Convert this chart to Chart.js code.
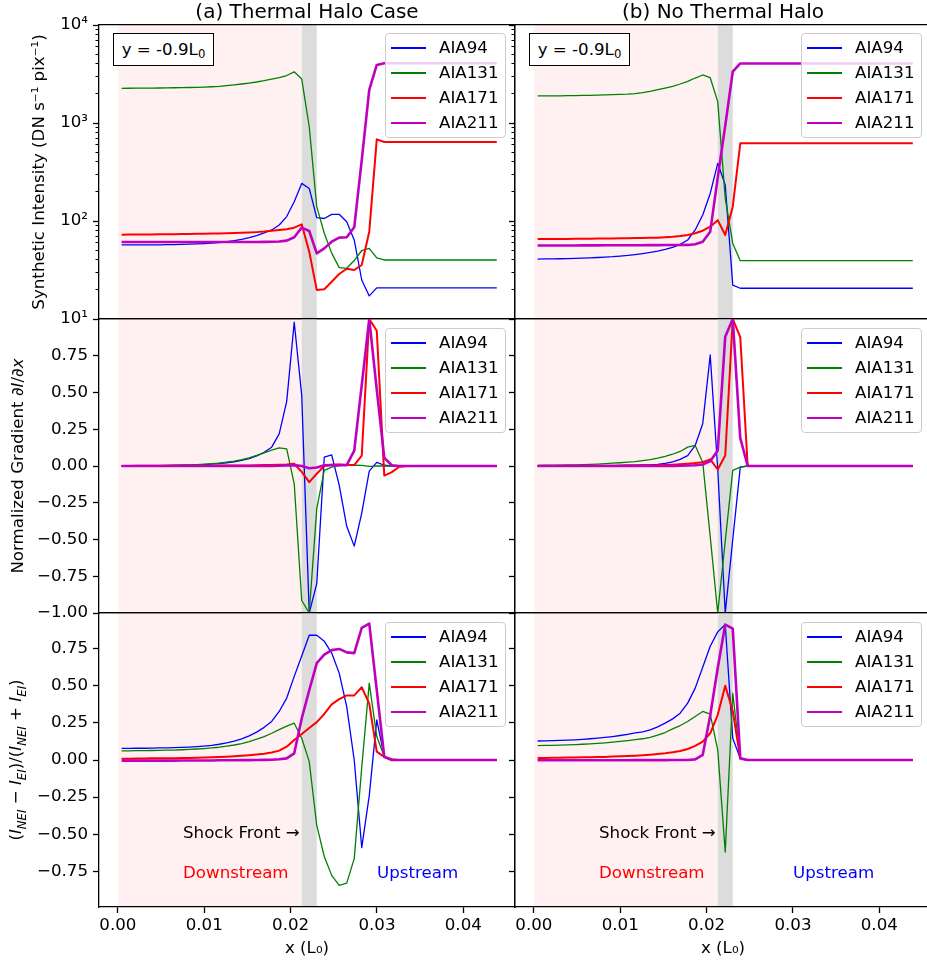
<!DOCTYPE html>
<html><head><meta charset="utf-8">
<script src="https://cdn.jsdelivr.net/npm/chart.js@4.4.1/dist/chart.umd.min.js"></script>
<style>
html,body{margin:0;padding:0;background:#fff;overflow:hidden;width:927px;height:968px;}
body{position:relative;font-family:'DejaVu Sans',sans-serif;color:#000;}
canvas{position:absolute;z-index:1;}
.t{position:absolute;z-index:3;white-space:nowrap;font-size:16.67px;line-height:20px;}
.title{position:absolute;z-index:3;white-space:nowrap;font-size:20px;line-height:24px;transform:translateX(-50%);top:-1px;}
.legend{position:absolute;z-index:3;width:121px;height:105px;box-sizing:border-box;border:1px solid #cccccc;border-radius:4px;background:rgba(255,255,255,0.8);}
.lg-line{position:absolute;left:5px;width:35px;}
.lg-text{position:absolute;left:53px;font-size:16.67px;line-height:20px;white-space:nowrap;}
.ybox{position:absolute;z-index:3;width:101px;height:33px;box-sizing:border-box;border:1.3px solid #000;background:#fff;display:flex;align-items:center;justify-content:center;font-size:16.67px;line-height:20px;white-space:nowrap;}
.sub{font-size:11.7px;position:relative;top:4px;}
.ylab{position:absolute;z-index:3;white-space:nowrap;font-size:16.67px;line-height:20px;transform:translate(-50%,-50%) rotate(-90deg);}
.ylab sub{font-size:11.7px;}
</style></head><body>
<div class="title" style="left:307px">(a) Thermal Halo Case</div>
<div class="title" style="left:723px">(b) No Thermal Halo</div>
<div class="ylab" style="left:18px;top:466px">Normalized Gradient <i>∂I</i>/<i>∂x</i></div>
<div class="ylab" style="left:19px;top:760px">(<i>I</i><sub><i>NEI</i></sub> − <i>I</i><sub><i>EI</i></sub>)/(<i>I</i><sub><i>NEI</i></sub> + <i>I</i><sub><i>EI</i></sub>)</div>
<div class="ybox" style="left:113px;top:33px">y = -0.9L<span class="sub">0</span></div>
<div class="ybox" style="left:529px;top:33px">y = -0.9L<span class="sub">0</span></div>
<div class="t" style="left:183px;top:823px">Shock Front →</div>
<div class="t" style="left:599px;top:823px">Shock Front →</div>
<div class="t" style="left:183px;top:863px;color:#ff0000">Downstream</div>
<div class="t" style="left:377px;top:863px;color:#0000ff">Upstream</div>
<div class="t" style="left:599px;top:863px;color:#ff0000">Downstream</div>
<div class="t" style="left:793px;top:863px;color:#0000ff">Upstream</div>
<script>
// ---------------- data ----------------
const xPositions = [
  0.00043, 0.00130, 0.00217, 0.00304, 0.00391, 0.00478, 0.00564, 0.00651, 0.00738, 0.00825,
  0.00912, 0.00999, 0.01086, 0.01173, 0.01260, 0.01347, 0.01434, 0.01520, 0.01607, 0.01694,
  0.01781, 0.01868, 0.01955, 0.02042, 0.02129, 0.02216, 0.02303, 0.02390, 0.02476, 0.02563,
  0.02650, 0.02737, 0.02824, 0.02911, 0.02998, 0.03085, 0.03172, 0.03259, 0.03346, 0.03432,
  0.03519, 0.03606, 0.03693, 0.03780, 0.03867, 0.03954, 0.04041, 0.04128, 0.04215, 0.04302,
  0.04388];
const seriesLabels = ['AIA94', 'AIA131', 'AIA171', 'AIA211'];
const downstreamSpan = [0, 0.02129];
const shockSpan = [0.02129, 0.02303];

// (a) Thermal halo, synthetic intensity
const intensityHalo94 = [
  57.0, 57.0, 57.0, 57.0, 57.1, 57.2, 57.3, 57.5, 57.7, 58.0,
  58.4, 58.9, 59.5, 60.3, 61.6, 63.0, 65.0, 67.6, 71.0, 75.5,
  81, 91, 111, 157, 242, 215, 108, 106, 117, 117,
  98.4, 64, 25, 17.2, 20.8, 20.8, 20.8, 20.8, 20.8, 20.8,
  20.8, 20.8, 20.8, 20.8, 20.8, 20.8, 20.8, 20.8, 20.8, 20.8, 20.8];
const intensityHalo131 = [
  2260, 2262, 2265, 2268, 2272, 2277, 2283, 2290, 2297, 2304,
  2312, 2325, 2345, 2370, 2405, 2450, 2500, 2555, 2620, 2700,
  2800, 2900, 3050, 3330, 2810, 916, 140, 75, 47, 33.4,
  32.9, 39.5, 50, 52.6, 42, 40, 40, 40, 40, 40,
  40, 40, 40, 40, 40, 40, 40, 40, 40, 40, 40];
const intensityHalo171 = [
  72.6, 72.7, 72.8, 72.9, 73.0, 73.1, 73.2, 73.3, 73.5, 73.7,
  73.9, 74.1, 74.4, 74.7, 75.0, 75.3, 75.7, 76.2, 77.0, 78.0,
  79.5, 81.0, 82.5, 85.5, 92.5, 48.6, 19.8, 20.1, 24.0, 28.8,
  32.6, 31.6, 35.6, 77.8, 681, 640, 640, 640, 640, 640,
  640, 640, 640, 640, 640, 640, 640, 640, 640, 640, 640];
const intensityHalo211 = [
  61.1, 61.1, 61.1, 61.1, 61.1, 61.1, 61.1, 61.1, 61.1, 61.1,
  61.1, 61.1, 61.1, 61.1, 61.1, 61.1, 61.1, 61.1, 61.1, 61.2,
  61.4, 61.8, 63.0, 68.2, 85.5, 79.1, 46.8, 52.6, 61.5, 67.6,
  68.2, 86.3, 419, 2173, 3907, 4065, 4065, 4065, 4065, 4065,
  4065, 4065, 4065, 4065, 4065, 4065, 4065, 4065, 4065, 4065, 4065];

// (b) No thermal halo, synthetic intensity
const intensityNoHalo94 = [
  40.9, 41.0, 41.1, 41.2, 41.4, 41.6, 41.8, 42.1, 42.4, 42.8,
  43.2, 43.8, 44.5, 45.4, 46.5, 47.8, 49.4, 51.4, 53.8, 57.8,
  64, 81, 115, 191, 388, 233, 22.2, 20.6, 20.6, 20.6,
  20.6, 20.6, 20.6, 20.6, 20.6, 20.6, 20.6, 20.6, 20.6, 20.6,
  20.6, 20.6, 20.6, 20.6, 20.6, 20.6, 20.6, 20.6, 20.6, 20.6, 20.6];
const intensityNoHalo131 = [
  1887, 1889, 1892, 1895, 1899, 1904, 1910, 1917, 1926, 1935,
  1945, 1955, 1968, 1995, 2040, 2105, 2190, 2275, 2366, 2500,
  2660, 2877, 3090, 2900, 1651, 170, 59, 39.4, 39.4, 39.4,
  39.4, 39.4, 39.4, 39.4, 39.4, 39.4, 39.4, 39.4, 39.4, 39.4,
  39.4, 39.4, 39.4, 39.4, 39.4, 39.4, 39.4, 39.4, 39.4, 39.4, 39.4];
const intensityNoHalo171 = [
  65.5, 65.5, 65.6, 65.6, 65.7, 65.8, 65.9, 66.0, 66.1, 66.2,
  66.4, 66.5, 66.7, 66.9, 67.1, 67.3, 67.6, 68.2, 69.0, 70.2,
  72.0, 75.0, 79.6, 87.5, 102, 72, 140, 621, 621, 621,
  621, 621, 621, 621, 621, 621, 621, 621, 621, 621,
  621, 621, 621, 621, 621, 621, 621, 621, 621, 621, 621];
const intensityNoHalo211 = [
  56.2, 56.2, 56.2, 56.3, 56.3, 56.3, 56.4, 56.4, 56.4, 56.5,
  56.5, 56.5, 56.6, 56.6, 56.6, 56.7, 56.7, 56.8, 56.8, 56.9,
  57.0, 58.0, 61.5, 77.8, 277, 940, 3340, 4050, 4050, 4050,
  4050, 4050, 4050, 4050, 4050, 4050, 4050, 4050, 4050, 4050,
  4050, 4050, 4050, 4050, 4050, 4050, 4050, 4050, 4050, 4050, 4050];

// (a) normalized gradient
const gradientHalo94 = [
  0.000, 0.001, 0.001, 0.002, 0.002, 0.003, 0.003, 0.004, 0.005, 0.006,
  0.008, 0.010, 0.013, 0.017, 0.022, 0.029, 0.038, 0.050, 0.068, 0.093,
  0.128, 0.219, 0.44, 0.978, 0.48, -1.0, -0.80, 0.06, 0.076, -0.13,
  -0.41, -0.545, -0.32, -0.035, 0.025, 0.005, 0, 0, 0, 0,
  0, 0, 0, 0, 0, 0, 0, 0, 0, 0, 0];
const gradientHalo131 = [
  0.000, 0.001, 0.001, 0.002, 0.002, 0.003, 0.004, 0.005, 0.006, 0.008,
  0.010, 0.013, 0.016, 0.020, 0.026, 0.033, 0.043, 0.056, 0.072, 0.090,
  0.108, 0.124, 0.117, -0.121, -0.915, -1.0, -0.29, -0.03, -0.008, 0.003,
  0.006, 0.005, 0.004, -0.003, 0, 0, 0, 0, 0, 0,
  0, 0, 0, 0, 0, 0, 0, 0, 0, 0, 0];
const gradientHalo171 = [
  0.000, 0.000, 0.001, 0.001, 0.001, 0.001, 0.001, 0.001, 0.001, 0.002,
  0.002, 0.002, 0.002, 0.003, 0.003, 0.003, 0.004, 0.004, 0.005, 0.006,
  0.007, 0.008, 0.010, 0.015, -0.04, -0.11, -0.053, 0.0, 0.008, 0.010,
  0.006, 0.006, 0.071, 1.0, 0.92, -0.065, -0.042, -0.005, 0, 0,
  0, 0, 0, 0, 0, 0, 0, 0, 0, 0, 0];
const gradientHalo211 = [
  0, 0, 0, 0, 0, 0, 0, 0, 0, 0,
  0, 0, 0, 0, 0, 0, 0, 0, 0, 0,
  0, 0.002, 0.004, 0.006, 0.0, -0.015, -0.010, 0.005, 0.006, 0.006,
  0.006, 0.105, 0.55, 1.0, 0.52, 0.055, 0.005, 0, 0, 0,
  0, 0, 0, 0, 0, 0, 0, 0, 0, 0, 0];

// (b) normalized gradient
const gradientNoHalo94 = [
  0.000, 0.000, 0.001, 0.001, 0.001, 0.001, 0.002, 0.002, 0.002, 0.003,
  0.003, 0.004, 0.005, 0.006, 0.007, 0.008, 0.011, 0.018, 0.028, 0.045,
  0.071, 0.14, 0.287, 0.755, -0.02, -1.0, -0.5, -0.008, 0, 0,
  0, 0, 0, 0, 0, 0, 0, 0, 0, 0,
  0, 0, 0, 0, 0, 0, 0, 0, 0, 0, 0];
const gradientNoHalo131 = [
  0.004, 0.005, 0.005, 0.006, 0.007, 0.008, 0.010, 0.011, 0.013, 0.016,
  0.019, 0.022, 0.026, 0.030, 0.036, 0.043, 0.053, 0.065, 0.080, 0.099,
  0.128, 0.14, 0.026, -0.48, -1.0, -0.51, -0.03, -0.008, 0, 0,
  0, 0, 0, 0, 0, 0, 0, 0, 0, 0,
  0, 0, 0, 0, 0, 0, 0, 0, 0, 0, 0];
const gradientNoHalo171 = [
  0.000, 0.000, 0.000, 0.001, 0.001, 0.001, 0.001, 0.001, 0.002, 0.002,
  0.002, 0.002, 0.003, 0.003, 0.003, 0.004, 0.005, 0.007, 0.009, 0.012,
  0.016, 0.020, 0.026, 0.045, -0.024, 0.071, 1.0, 0.876, 0, 0,
  0, 0, 0, 0, 0, 0, 0, 0, 0, 0,
  0, 0, 0, 0, 0, 0, 0, 0, 0, 0, 0];
const gradientNoHalo211 = [
  0, 0, 0, 0, 0, 0, 0, 0, 0, 0,
  0, 0, 0, 0, 0, 0, 0, 0, 0, 0.002,
  0.003, 0.005, 0.010, 0.033, 0.105, 0.88, 1.0, 0.19, 0, 0,
  0, 0, 0, 0, 0, 0, 0, 0, 0, 0,
  0, 0, 0, 0, 0, 0, 0, 0, 0, 0, 0];

// (a) (I_NEI - I_EI)/(I_NEI + I_EI)
const neiHalo94 = [
  0.078, 0.078, 0.079, 0.079, 0.080, 0.081, 0.082, 0.083, 0.085, 0.087,
  0.090, 0.094, 0.099, 0.106, 0.115, 0.127, 0.142, 0.162, 0.188, 0.220,
  0.260, 0.327, 0.417, 0.563, 0.70, 0.84, 0.84, 0.80, 0.72, 0.585,
  0.36, 0.0, -0.59, -0.24, 0.27, 0.02, 0, 0, 0, 0,
  0, 0, 0, 0, 0, 0, 0, 0, 0, 0, 0];
const neiHalo131 = [
  0.062, 0.062, 0.063, 0.063, 0.064, 0.065, 0.066, 0.067, 0.069, 0.071,
  0.074, 0.077, 0.081, 0.086, 0.093, 0.101, 0.111, 0.124, 0.140, 0.158,
  0.180, 0.205, 0.228, 0.248, 0.146, -0.011, -0.44, -0.65, -0.777, -0.845,
  -0.829, -0.664, -0.05, 0.518, 0.158, 0.023, 0, 0, 0, 0,
  0, 0, 0, 0, 0, 0, 0, 0, 0, 0, 0];
const neiHalo171 = [
  0.009, 0.009, 0.010, 0.010, 0.011, 0.011, 0.012, 0.012, 0.013, 0.014,
  0.015, 0.016, 0.018, 0.020, 0.022, 0.025, 0.028, 0.032, 0.037, 0.042,
  0.050, 0.063, 0.090, 0.135, 0.175, 0.215, 0.255, 0.31, 0.375, 0.41,
  0.435, 0.435, 0.49, 0.38, 0.056, 0.02, 0.005, 0, 0, 0,
  0, 0, 0, 0, 0, 0, 0, 0, 0, 0, 0];
const neiHalo211 = [
  -0.004, -0.004, -0.004, -0.004, -0.004, -0.004, -0.004, -0.004, -0.003, -0.003,
  -0.003, -0.003, -0.003, -0.002, -0.002, -0.002, -0.001, -0.001, 0.000, 0.001,
  0.002, 0.005, 0.011, 0.045, 0.28, 0.47, 0.653, 0.709, 0.74, 0.748,
  0.725, 0.72, 0.89, 0.919, 0.47, 0.022, 0, 0, 0, 0,
  0, 0, 0, 0, 0, 0, 0, 0, 0, 0, 0];

// (b) (I_NEI - I_EI)/(I_NEI + I_EI)
const neiNoHalo94 = [
  0.128, 0.129, 0.130, 0.132, 0.134, 0.136, 0.139, 0.143, 0.147, 0.152,
  0.158, 0.165, 0.173, 0.182, 0.190, 0.203, 0.223, 0.248, 0.277, 0.315,
  0.383, 0.484, 0.624, 0.766, 0.863, 0.912, 0.146, 0.011, 0, 0,
  0, 0, 0, 0, 0, 0, 0, 0, 0, 0,
  0, 0, 0, 0, 0, 0, 0, 0, 0, 0, 0];
const neiNoHalo131 = [
  0.097, 0.098, 0.099, 0.100, 0.102, 0.104, 0.106, 0.109, 0.112, 0.116,
  0.120, 0.125, 0.131, 0.137, 0.143, 0.152, 0.167, 0.185, 0.210, 0.232,
  0.259, 0.293, 0.327, 0.309, 0.068, -0.62, 0.45, 0.011, 0, 0,
  0, 0, 0, 0, 0, 0, 0, 0, 0, 0,
  0, 0, 0, 0, 0, 0, 0, 0, 0, 0, 0];
const neiNoHalo171 = [
  0.014, 0.014, 0.015, 0.015, 0.016, 0.017, 0.018, 0.019, 0.020, 0.021,
  0.023, 0.025, 0.027, 0.029, 0.032, 0.036, 0.040, 0.045, 0.052, 0.061,
  0.074, 0.095, 0.124, 0.180, 0.304, 0.50, 0.33, 0.011, 0, 0,
  0, 0, 0, 0, 0, 0, 0, 0, 0, 0,
  0, 0, 0, 0, 0, 0, 0, 0, 0, 0, 0];
const neiNoHalo211 = [
  -0.002, -0.002, -0.002, -0.002, -0.002, -0.002, -0.002, -0.002, -0.002, -0.002,
  -0.002, -0.002, -0.002, -0.001, -0.001, -0.001, -0.001, -0.001, 0.000, 0.000,
  0.000, 0.004, 0.034, 0.30, 0.62, 0.912, 0.885, 0.011, 0, 0,
  0, 0, 0, 0, 0, 0, 0, 0, 0, 0,
  0, 0, 0, 0, 0, 0, 0, 0, 0, 0, 0];

// tick values / labels
const xTickValues = [0, 0.01, 0.02, 0.03, 0.04];
const logTickValues = [10, 100, 1000, 10000];
const logTickLabels = ['10\u00B9', '10\u00B2', '10\u00B3', '10\u2074'];
const logMinorTickValues = [20, 30, 40, 50, 60, 70, 80, 90, 200, 300, 400, 500, 600, 700, 800, 900,
  2000, 3000, 4000, 5000, 6000, 7000, 8000, 9000];
const gradientTickValues = [-1, -0.75, -0.5, -0.25, 0, 0.25, 0.5, 0.75];
const neiTickValues = [-0.75, -0.5, -0.25, 0, 0.25, 0.5, 0.75];

// ---------------- styling ----------------
const FONT = "'DejaVu Sans', sans-serif";
const tickFont = {family: FONT, size: 16.67};
const seriesColors = ['#0000ff', '#008000', '#ff0000', '#bf00bf'];
const seriesWidths = [1.3, 1.3, 2.0, 2.6];
const spanColors = ['rgba(255,0,0,0.055)', '#dcdcdc'];
const X_MIN = -0.00219, X_MAX = 0.04599;
const SPINE = 1.3;

const shadePlugin = {
  id: 'shade',
  beforeDraw(chart) {
    const {ctx, chartArea, scales} = chart;
    const xs = scales.x;
    ctx.save();
    [downstreamSpan, shockSpan].forEach((span, i) => {
      const a = xs.getPixelForValue(span[0]);
      const b = xs.getPixelForValue(span[1]);
      ctx.fillStyle = spanColors[i];
      ctx.fillRect(a, chartArea.top, b - a, chartArea.bottom - chartArea.top);
    });
    ctx.restore();
  }
};

function fmtSigned(v) {
  return (v < 0 ? '\u2212' : '') + Math.abs(v).toFixed(2);
}

function spineAxis(pos, type, min, max) {
  return {
    type, position: pos, min, max, display: true, weight: 5,
    ticks: {display: false},
    grid: {display: true, drawOnChartArea: false, drawTicks: false},
    border: {display: true, color: '#000', width: SPINE},
    afterFit: s => { if (s.isHorizontal()) s.height = 0; else s.width = 0; }
  };
}

function makePanel(p) {
  const cv = document.createElement('canvas');
  cv.width = p.w; cv.height = p.h;
  cv.style.left = p.left + 'px'; cv.style.top = p.top + 'px';
  cv.style.width = p.w + 'px'; cv.style.height = p.h + 'px';
  document.body.appendChild(cv);

  const datasets = p.series.map((vals, i) => ({
    label: seriesLabels[i],
    data: xPositions.map((x, j) => ({x: x, y: vals[j]})),
    borderColor: seriesColors[i],
    borderWidth: seriesWidths[i],
    pointRadius: 0, fill: false, tension: 0,
    order: 4 - i
  }));

  const scales = {
    x: {
      type: 'linear', position: 'bottom', min: X_MIN, max: X_MAX, weight: 1,
      afterBuildTicks: s => { s.ticks = p.showX ? xTickValues.map(v => ({value: v})) : []; },
      ticks: {display: p.showX, autoSkip: false, maxRotation: 0, padding: 3, font: tickFont, color: '#000',
        callback: v => Number(v).toFixed(2)},
      grid: {display: p.showX, drawOnChartArea: false, drawTicks: true, tickLength: 6, tickWidth: SPINE, tickColor: '#000'},
      border: {display: true, color: '#000', width: SPINE},
      title: {display: p.showX, text: 'x (L\u2080)', font: tickFont, color: '#000', padding: {top: 0, bottom: 4}},
      afterFit: s => { s.height = p.showX ? 56 : 0; }
    },
    xTop: spineAxis('top', 'linear', X_MIN, X_MAX),
    y: {
      type: p.yType, position: 'left', min: p.yMin, max: p.yMax, weight: 2,
      afterBuildTicks: s => { s.ticks = p.yTicks.map(v => ({value: v})); },
      ticks: {display: p.showYLabels, autoSkip: false, padding: 5, font: tickFont, color: '#000', callback: p.yFormat},
      grid: {display: true, drawOnChartArea: false, drawTicks: true, tickLength: 6, tickWidth: SPINE, tickColor: '#000'},
      border: {display: true, color: '#000', width: SPINE},
      title: {display: !!p.yTitle, text: p.yTitle || '', font: tickFont, color: '#000', padding: {top: 30, bottom: 0}},
      afterFit: s => { s.width = p.yWidth; }
    },
    yRight: spineAxis('right', p.yType, p.yMin, p.yMax)
  };
  if (p.yType === 'logarithmic') {
    scales.yMinor = {
      type: 'logarithmic', position: 'left', min: p.yMin, max: p.yMax, weight: 0,
      afterBuildTicks: s => { s.ticks = logMinorTickValues.map(v => ({value: v})); },
      ticks: {display: false},
      grid: {display: true, drawOnChartArea: false, drawTicks: true, tickLength: 3.5, tickWidth: 1.0, tickColor: '#000'},
      border: {display: false},
      afterFit: s => { s.width = 0; }
    };
  }

  new Chart(cv, {
    type: 'line',
    data: {datasets},
    options: {
      responsive: false, animation: false, devicePixelRatio: 1,
      layout: {padding: {top: p.padT, bottom: p.padB, left: 0, right: p.padR}},
      plugins: {legend: {display: false}, tooltip: {enabled: false}},
      elements: {point: {radius: 0}, line: {borderJoinStyle: 'round', borderCapStyle: 'butt'}},
      scales
    },
    plugins: [shadePlugin]
  });

  // legend (HTML)
  const lg = document.createElement('div');
  lg.className = 'legend';
  lg.style.left = p.legendLeft + 'px';
  lg.style.top = p.legendTop + 'px';
  seriesLabels.forEach((lab, i) => {
    const cy = 14 + 25 * i;
    const ln = document.createElement('div');
    ln.className = 'lg-line';
    ln.style.top = (cy - seriesWidths[i] / 2) + 'px';
    ln.style.height = seriesWidths[i] + 'px';
    ln.style.background = seriesColors[i];
    const tx = document.createElement('div');
    tx.className = 'lg-text';
    tx.style.top = (cy - 10) + 'px';
    tx.textContent = lab;
    lg.appendChild(ln); lg.appendChild(tx);
  });
  document.body.appendChild(lg);
}

const rows = [
  {top: 0, h: 340, padT: 25, padB: 21, yType: 'logarithmic', yMin: 10, yMax: 10000, yTicks: logTickValues,
   yFormat: v => logTickLabels[logTickValues.indexOf(Number(v))] || '', showX: false, legendTop: 33,
   yTitle: 'Synthetic Intensity (DN s\u207B\u00B9 pix\u207B\u00B9)',
   series: [[intensityHalo94, intensityHalo131, intensityHalo171, intensityHalo211],
            [intensityNoHalo94, intensityNoHalo131, intensityNoHalo171, intensityNoHalo211]]},
  {top: 300, h: 330, padT: 19, padB: 17, yType: 'linear', yMin: -1, yMax: 1, yTicks: gradientTickValues,
   yFormat: v => fmtSigned(v), showX: false, legendTop: 328, yTitle: null,
   series: [[gradientHalo94, gradientHalo131, gradientHalo171, gradientHalo211],
            [gradientNoHalo94, gradientNoHalo131, gradientNoHalo171, gradientNoHalo211]]},
  {top: 593, h: 375, padT: 20, padB: 5, yType: 'linear', yMin: -0.99, yMax: 0.99, yTicks: neiTickValues,
   yFormat: v => fmtSigned(v), showX: true, legendTop: 622, yTitle: null,
   series: [[neiHalo94, neiHalo131, neiHalo171, neiHalo211],
            [neiNoHalo94, neiNoHalo131, neiNoHalo171, neiNoHalo211]]}
];
const cols = [
  {left: 0, w: 520, padR: 5, yWidth: 99, showYLabels: true, legendLeft: 385},
  {left: 500, w: 433, padR: 2, yWidth: 15, showYLabels: false, legendLeft: 801}
];

rows.forEach(r => {
  cols.forEach((c, ci) => {
    makePanel({
      left: c.left, w: c.w, top: r.top, h: r.h, padT: r.padT, padB: r.padB, padR: c.padR,
      yType: r.yType, yMin: r.yMin, yMax: r.yMax, yTicks: r.yTicks, yFormat: r.yFormat,
      showX: r.showX, showYLabels: c.showYLabels, yWidth: c.yWidth,
      yTitle: ci === 0 ? r.yTitle : null,
      series: r.series[ci], legendLeft: c.legendLeft, legendTop: r.legendTop
    });
  });
});
</script>
</body></html>
